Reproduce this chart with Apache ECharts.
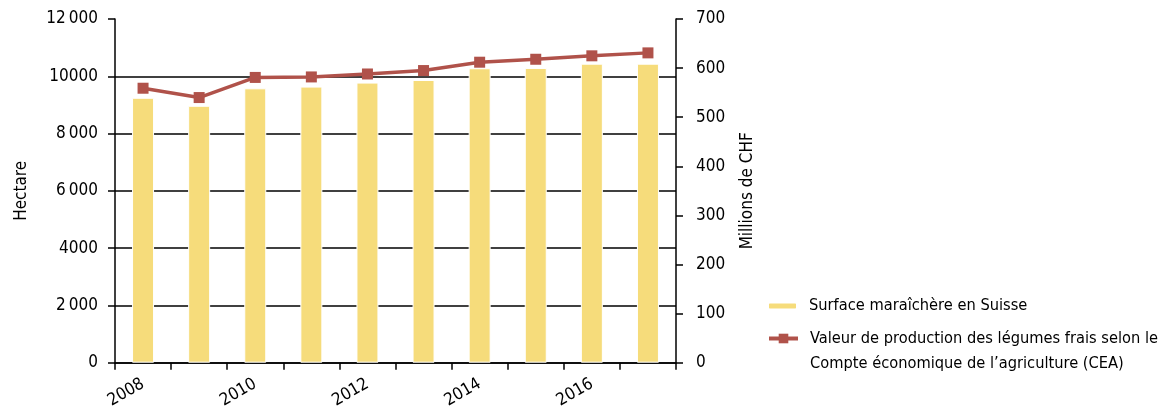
<!DOCTYPE html>
<html>
<head>
<meta charset="utf-8">
<script src="https://cdn.jsdelivr.net/npm/echarts@6/dist/echarts.min.js"></script>
<style>
html,body{margin:0;padding:0;background:#fff;}
#chart{width:1170px;height:411px;}
</style>
</head>
<body>
<div id="chart"></div>
<script>
const years = ['2008','2009','2010','2011','2012','2013','2014','2015','2016','2017'];
const surface = [9250, 8970, 9580, 9640, 9780, 9870, 10280, 10290, 10440, 10440];
const valeur = [559, 540, 581, 582, 588, 595, 612, 618, 625, 631];
const leftTickLabels = ['0', '2\u2009000', '4000', '6\u2009000', '8\u2009000', '10000', '12\u2009000'];
const rightTickLabels = ['0', '100', '200', '300', '400', '500', '600', '700'];
const nameBar = 'Surface maraîchère en Suisse';
const nameLine = 'Valeur de production des légumes frais selon le\nCompte économique de l\u2019agriculture (CEA)';
const leftAxisName = 'Hectare';
const rightAxisName = 'Millions de CHF';

const FONT = "'Liberation Sans Narrow', 'DejaVu Sans Condensed', 'Liberation Sans', sans-serif";
const FS = 17;
const LFS = 16.3;
const BAR = '#F6DC7B';
const LINE = '#B0524A';

const chart = echarts.init(document.getElementById('chart'), null, {renderer: 'canvas'});
chart.setOption({
  animation: false,
  textStyle: {fontFamily: FONT, color: '#000'},
  grid: {left: 115, right: 494, top: 19, bottom: 48, containLabel: false},
  legend: [
    {
      data: [nameBar], left: 767, top: 298, padding: 0,
      itemWidth: 29, itemHeight: 7,
      textStyle: {fontFamily: FONT, fontSize: LFS, color: '#000', padding: [0,0,0,7]}
    },
    {
      data: [nameLine], left: 767, top: 301, padding: 0,
      itemWidth: 29, itemHeight: 12,
      lineStyle: {width: 4},
      formatter: function (n) { return ' \n' + n; },
      textStyle: {fontFamily: FONT, fontSize: LFS, color: '#000', lineHeight: 25, padding: [0,0,0,7]}
    }
  ],
  xAxis: {
    type: 'category', data: years, boundaryGap: true,
    axisLine: {lineStyle: {color: '#000', width: 1.5}},
    axisTick: {show: true, interval: 0, length: 7, lineStyle: {color: '#000', width: 1.5}},
    axisLabel: {interval: 1, rotate: 30, margin: 20, fontSize: FS, color: '#000', fontFamily: FONT},
    splitLine: {show: false}
  },
  yAxis: [
    {
      type: 'value', min: 0, max: 12000, interval: 2000, position: 'left',
      name: leftAxisName, nameLocation: 'middle', nameGap: 85, nameRotate: 90,
      nameTextStyle: {fontSize: FS, color: '#000', fontFamily: FONT},
      axisLine: {show: true, lineStyle: {color: '#000', width: 1.5}},
      axisTick: {show: true, length: 7, lineStyle: {color: '#000', width: 1.5}},
      axisLabel: {margin: 17, fontSize: FS, color: '#000', fontFamily: FONT,
        formatter: function (v) { return leftTickLabels[Math.round(v / 2000)]; }},
      splitLine: {show: true, showMaxLine: false, lineStyle: {color: '#000', width: 1.5}}
    },
    {
      type: 'value', min: 0, max: 700, interval: 100, position: 'right',
      name: rightAxisName, nameLocation: 'middle', nameGap: 63, nameRotate: 90,
      nameTextStyle: {fontSize: FS, color: '#000', fontFamily: FONT},
      axisLine: {show: true, lineStyle: {color: '#000', width: 1.5}},
      axisTick: {show: true, length: 7, lineStyle: {color: '#000', width: 1.5}},
      axisLabel: {margin: 20, fontSize: FS, color: '#000', fontFamily: FONT,
        formatter: function (v) { return rightTickLabels[Math.round(v / 100)]; }},
      splitLine: {show: false}
    }
  ],
  series: [
    {
      name: nameBar, type: 'bar', yAxisIndex: 0, data: surface, barWidth: 22,
      itemStyle: {color: BAR, borderColor: '#fff', borderWidth: 1}
    },
    {
      name: nameLine, type: 'line', yAxisIndex: 1, data: valeur,
      symbol: 'rect', symbolSize: 11,
      lineStyle: {color: LINE, width: 3.5},
      itemStyle: {color: LINE}
    }
  ]
});
</script>
</body>
</html>
